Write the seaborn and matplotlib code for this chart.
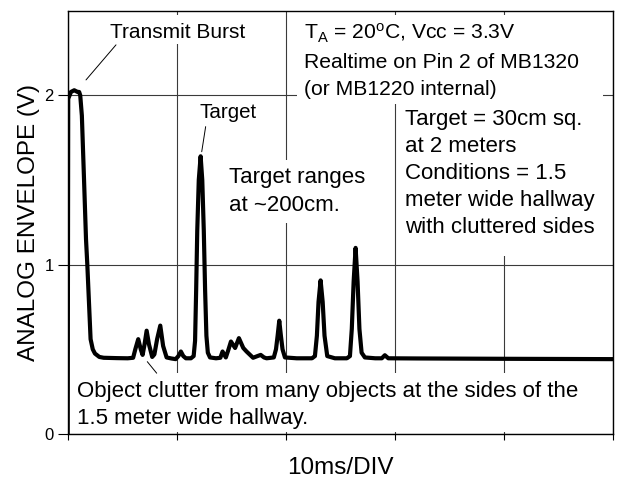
import matplotlib
matplotlib.use("Agg")
import matplotlib.pyplot as plt
from matplotlib.patches import Rectangle
import seaborn as sns
import pandas as pd

# ---- data (time in ms, envelope in V) ----
time_ms = [0.0, 0.05, 0.3, 0.6, 0.9, 1.05, 1.15, 1.3, 1.5, 1.68, 1.8, 2.1, 2.3, 2.5, 2.9, 3.3,
           4.5, 5.5, 6.0, 6.2, 6.47, 6.7, 6.87, 7.05, 7.24, 7.45, 7.75, 7.95, 8.2, 8.49, 8.75, 9.07,
           9.5, 9.9, 10.15, 10.38, 10.6, 10.84, 11.3, 11.55, 11.68, 11.78, 11.88, 12.02, 12.19,
           12.34, 12.48, 12.6, 12.72, 12.85, 13.05, 13.6, 14.0, 14.2, 14.5, 14.75, 14.97, 15.35,
           15.7, 16.1, 16.4, 17.0, 17.4, 17.7, 18.0, 18.24, 18.9, 19.1, 19.25, 19.4, 19.55,
           19.7, 19.92, 21.0, 22.4, 22.67, 22.85, 23.0, 23.19, 23.38, 23.55, 23.8, 24.5, 25.6,
           25.88, 26.05, 26.22, 26.4, 26.58, 26.75, 26.95, 27.25, 28.2, 28.8, 29.08, 29.4, 32.0,
           36.0, 40.0, 45.0, 50.0]
volts = [0.0, 1.98, 2.02, 2.03, 2.02, 2.02, 2.0, 1.88, 1.5, 1.15, 1.0, 0.56, 0.50, 0.475, 0.455, 0.45,
         0.448, 0.447, 0.45, 0.50, 0.56, 0.50, 0.467, 0.53, 0.61, 0.53, 0.455, 0.47, 0.56, 0.64, 0.52, 0.452,
         0.446, 0.442, 0.46, 0.487, 0.46, 0.447, 0.447, 0.46, 0.55, 0.85, 1.2, 1.5, 1.64,
         1.5, 1.2, 0.85, 0.58, 0.48, 0.452, 0.447, 0.45, 0.487, 0.452, 0.50, 0.546, 0.508,
         0.566, 0.508, 0.487, 0.45, 0.46, 0.467, 0.452, 0.447, 0.452, 0.50, 0.58, 0.669, 0.58,
         0.50, 0.452, 0.447, 0.447, 0.46, 0.58, 0.78, 0.907, 0.78, 0.58, 0.46, 0.447, 0.447,
         0.46, 0.62, 0.90, 1.099, 0.90, 0.62, 0.48, 0.452, 0.447, 0.447, 0.465, 0.447, 0.446,
         0.445, 0.444, 0.443, 0.442]

x_ticks = [0, 10, 20, 30, 40, 50]
y_ticks = [0, 1, 2]
y_tick_labels = ["0", "1", "2"]

df = pd.DataFrame({"time": time_ms, "volts": volts})

sns.set_theme(style="white")
plt.rcParams["font.family"] = ["Liberation Sans", "DejaVu Sans"]
plt.rcParams["mathtext.fontset"] = "custom"
plt.rcParams["mathtext.rm"] = "Liberation Sans"
plt.rcParams["mathtext.it"] = "Liberation Sans"
plt.rcParams["text.color"] = "black"
plt.rcParams["axes.labelcolor"] = "black"

fig = plt.figure(figsize=(6.17, 4.78), dpi=100)
ax = fig.add_axes([0.1097, 0.0921, 0.8838, 0.8856])

sns.lineplot(data=df, x="time", y="volts", sort=False, estimator=None,
             color="black", linewidth=3.0, ax=ax, zorder=3)

ax.set_xlim(0, 50)
ax.set_ylim(0, 2.5)
ax.set_xticks(x_ticks)
ax.set_xticklabels([])
ax.set_yticks(y_ticks)
ax.set_yticklabels(y_tick_labels)
ax.tick_params(axis="x", direction="out", length=4, width=0.8, color="black", bottom=True)
ax.tick_params(axis="y", direction="out", length=7.5, width=0.8, color="black", left=True,
               pad=2.5, labelsize=12, labelcolor="black")
ax.set_axisbelow(True)
ax.grid(True, color="#3a3a3a", linewidth=0.8)
for s in ax.spines.values():
    s.set_visible(True)
    s.set_color("black")
    s.set_linewidth(1.0)
    s.set_zorder(4)

ax.set_xlabel("10ms/DIV", fontsize=17.5, color="black", labelpad=9)
ax.set_ylabel("ANALOG ENVELOPE (V)", fontsize=17.5, color="black", labelpad=3)

# white masks behind the annotation blocks (axes fraction)
masks = [(0.0666, 0.921, 0.2674, 0.069),
         (0.4205, 0.7796, 0.5612, 0.2104),
         (0.6275, 0.4205, 0.3615, 0.3685),
         (0.283, 0.4985, 0.275, 0.1485),
         (0.004, 0.005, 0.972, 0.139)]
for (mx, my, mw, mh) in masks:
    ax.add_patch(Rectangle((mx, my), mw, mh, transform=ax.transAxes,
                           facecolor="white", edgecolor="none", zorder=1))

fs = 16
ls = 1.39
ax.text(3.88, 2.337, "Transmit Burst", fontsize=15, va="baseline", ha="left", zorder=5)
ax.plot([4.43, 1.68], [2.298, 2.091], color="black", lw=0.7, zorder=5)
ax.text(12.13, 1.865, "Target", fontsize=14.8, va="baseline", ha="left", zorder=5)
ax.plot([12.65, 12.29], [1.815, 1.667], color="black", lw=0.7, zorder=5)
ax.text(14.82, 1.319, "Target ranges\nat ~200cm.", fontsize=fs, va="baseline", ha="left",
        linespacing=ls, zorder=5)
ax.text(21.7, 2.004,
        "T$_\\mathregular{A}$ = 20$^\\mathregular{o}$C, Vcc = 3.3V\nRealtime on Pin 2 of MB1320\n(or MB1220 internal)",
        fontsize=15.2, va="baseline", ha="left", linespacing=1.52, zorder=5)
ax.text(30.9, 1.184,
        "Target = 30cm sq.\nat 2 meters\nConditions = 1.5\nmeter wide hallway\nwith cluttered sides",
        fontsize=fs, va="baseline", ha="left", linespacing=ls, zorder=5)
ax.text(0.825, 0.059,
        "Object clutter from many objects at the sides of the\n1.5 meter wide hallway.",
        fontsize=fs, va="baseline", ha="left", linespacing=ls, zorder=5)
ax.plot([7.30, 8.16], [0.427, 0.359], color="black", lw=0.7, zorder=5)

fig.savefig("out.png", dpi=100)
